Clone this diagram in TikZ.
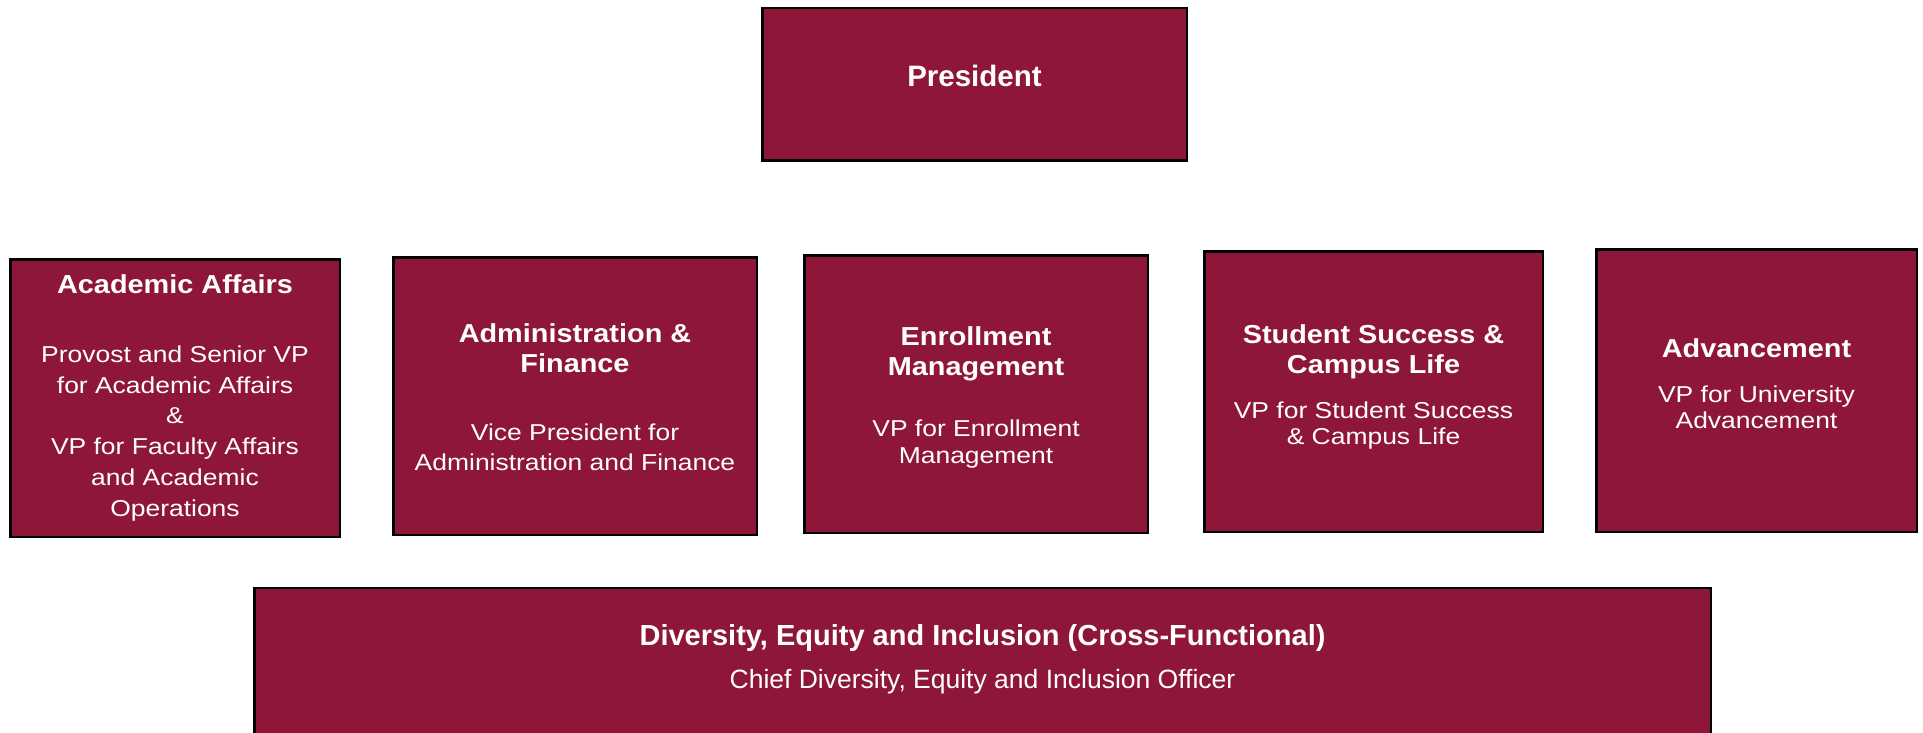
\documentclass[tikz,border=0pt]{standalone}
\usepackage{fontspec}
\setmainfont{Liberation Sans}
\newfontfamily\orghead{Liberation Sans}[FakeStretch=1.11]
\newfontfamily\orgsub{Liberation Sans}[FakeStretch=1.15]
\usepackage{tikz}
\definecolor{unitred}{RGB}{142,22,56}

\tikzset{
    unitbox/.style={draw=black, line width=2.5pt, fill=unitred, inner sep=0pt},
    headtxt/.style={text=white, font=\orghead\bfseries\fontsize{26}{30}\selectfont,
        align=center, anchor=base, inner sep=0pt},
    subtxt/.style={text=white, font=\orgsub\fontsize{23}{#1}\selectfont,
        align=center, anchor=base, inner sep=0pt},
    subtxt/.default=29
}

\begin{document}
\begin{tikzpicture}[x=1pt, y=-1pt]

\clip (0,0) rectangle (1923,733);

% President
\node[unitbox, minimum width=424.5pt, minimum height=152.5pt] (pres) at (974.5,84.5) {};
\node[headtxt, font=\bfseries\fontsize{29.5}{32}\selectfont] (presname) at (974.5,87) {President};

% Divisions
\node[unitbox, minimum width=329.5pt, minimum height=277.5pt] (acad) at (175,398) {};
\node[unitbox, minimum width=363.5pt, minimum height=277.5pt] (admin) at (575,396) {};
\node[unitbox, minimum width=343.5pt, minimum height=277.5pt] (enroll) at (976,394) {};
\node[unitbox, minimum width=338.5pt, minimum height=280.5pt] (student) at (1373.5,391.5) {};
\node[unitbox, minimum width=320.5pt, minimum height=282.5pt] (advance) at (1756.5,390.5) {};

% Division titles and officers (y = baseline of the last line)
\node[headtxt] (acadname) at (175,293) {Academic Affairs};
\node[subtxt=30.7] (acadvp) at (175,516) {Provost and Senior VP\\for Academic Affairs\\\&\\VP for Faculty Affairs\\and Academic\\Operations};

\node[headtxt] (adminname) at (575,372) {Administration \&\\Finance};
\node[subtxt=30] (adminvp) at (575,470) {Vice President for\\Administration and Finance};

\node[headtxt] (enrollname) at (976,375) {Enrollment\\Management};
\node[subtxt=27.5] (enrollvp) at (976,463.5) {VP for Enrollment\\Management};

\node[headtxt] (studentname) at (1373.5,373) {Student Success \&\\Campus Life};
\node[subtxt=26.5] (studentvp) at (1373.5,444.5) {VP for Student Success\\\& Campus Life};

\node[headtxt] (advancename) at (1756.5,357) {Advancement};
\node[subtxt=26.5] (advancevp) at (1756.5,428.5) {VP for University\\Advancement};

% Cross-functional unit (runs off the bottom edge)
\node[unitbox, minimum width=1456.5pt, minimum height=172pt] (dei) at (982.5,674) {};
\node[headtxt, font=\bfseries\fontsize{29}{32}\selectfont] (deiname) at (982.5,645) {Diversity, Equity and Inclusion (Cross-Functional)};
\node[subtxt, font=\fontsize{26.5}{30}\selectfont] (deivp) at (982.5,688) {Chief Diversity, Equity and Inclusion Officer};

\end{tikzpicture}
\end{document}
